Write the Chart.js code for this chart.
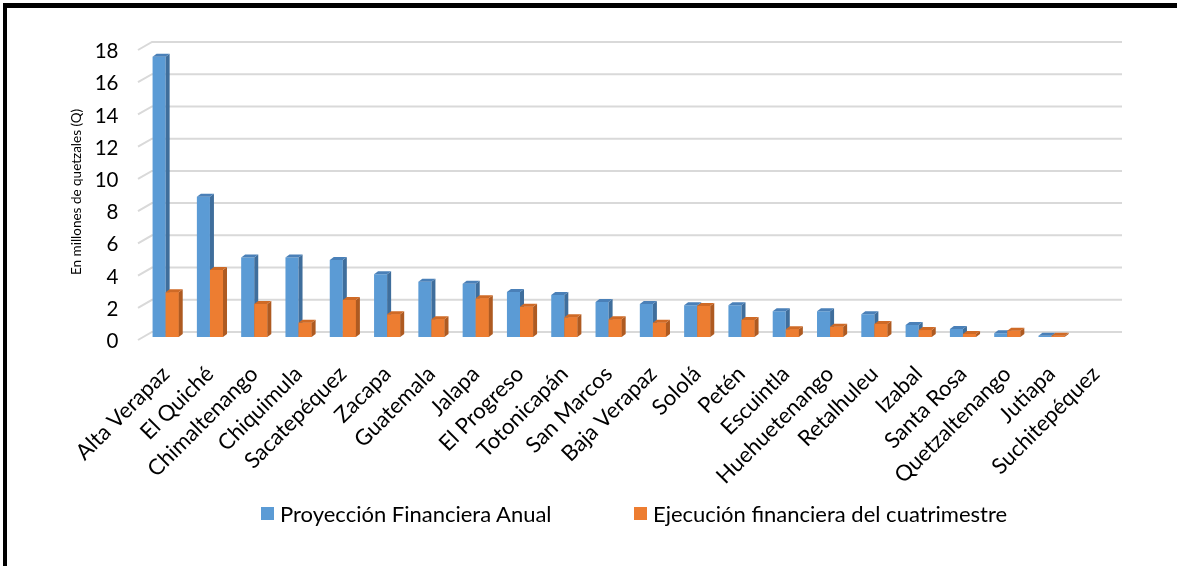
<!DOCTYPE html>
<html>
<head>
<meta charset="utf-8">
<script src="https://cdn.jsdelivr.net/npm/chart.js@4.4.1/dist/chart.umd.min.js"></script>
<style>
  html, body { margin: 0; padding: 0; background: #fff; }
  #wrap { position: relative; width: 1177px; height: 566px; overflow: hidden; }
  #myChart { position: absolute; left: 0; top: 0; }
  .frame-top { position: absolute; left: 3px; top: 3px; width: 1174px; height: 5px; background: #000; }
  .frame-left { position: absolute; left: 3px; top: 3px; width: 4px; height: 563px; background: #000; }
  .legend-item { position: absolute; top: 499px; height: 28px; display: flex; align-items: center;
    font-family: Lato, sans-serif; font-size: 22px; color: #000; white-space: nowrap; }
  .legend-box { width: 13px; height: 13px; margin-right: 6px; }
</style>
</head>
<body>
<div id="wrap">
  <canvas id="myChart" width="1177" height="566"></canvas>
  <div class="frame-top"></div>
  <div class="frame-left"></div>
  <div id="legend"></div>
</div>
<script>
// departamentos, ordered as in the chart
const departamentos = ['Alta Verapaz', 'El Quiché', 'Chimaltenango', 'Chiquimula', 'Sacatepéquez', 'Zacapa',
  'Guatemala', 'Jalapa', 'El Progreso', 'Totonicapán', 'San Marcos', 'Baja Verapaz', 'Sololá', 'Petén',
  'Escuintla', 'Huehuetenango', 'Retalhuleu', 'Izabal', 'Santa Rosa', 'Quetzaltenango', 'Jutiapa', 'Suchitepéquez'];

// millones de quetzales
const proyeccionAnual = [17.4, 8.7, 4.93, 4.93, 4.78, 3.9, 3.43, 3.3, 2.8, 2.6, 2.17, 2.05, 1.97, 1.97,
  1.6, 1.6, 1.41, 0.75, 0.5, 0.23, 0.08, 0];
const ejecucionCuatrimestre = [2.78, 4.16, 2.05, 0.89, 2.3, 1.41, 1.1, 2.4, 1.88, 1.22, 1.1, 0.89, 1.93, 1.06,
  0.48, 0.64, 0.81, 0.43, 0.19, 0.39, 0.08, 0];

const yTicks = [0, 2, 4, 6, 8, 10, 12, 14, 16, 18];

const seriesNames = ['Proyección Financiera Anual', 'Ejecución financiera del cuatrimestre'];
const colFront = ['#5B9BD5', '#ED7D31'];
const colSide = ['#3F6E9C', '#AE5A21'];
const colTop = ['#4A80B8', '#CF6A26'];

// back wall gridlines (excel 3d look)
const backWall = {
  id: 'backWall',
  beforeDatasetsDraw(chart) {
    const { ctx, chartArea, scales: { y } } = chart;
    ctx.save();
    ctx.strokeStyle = '#D9D9D9';
    ctx.lineWidth = 2;
    yTicks.forEach(v => {
      const py = y.getPixelForValue(v);
      ctx.beginPath();
      ctx.moveTo(chartArea.left - 5.5, py + 3);
      ctx.lineTo(chartArea.left + 8.5, py - 5);
      ctx.lineTo(chartArea.right + 4, py - 5);
      ctx.stroke();
    });
    ctx.restore();
  }
};

function drawFaces(ctx, bar, i) {
  const { x, y, base, width } = bar.getProps(['x', 'y', 'base', 'width'], true);
  if (base - y < 0.5) return;
  const dx = 4, dy = 3;
  const L = x - width / 2, R = x + width / 2;
  ctx.fillStyle = colSide[i];
  ctx.beginPath();
  ctx.moveTo(R, y); ctx.lineTo(R + dx, y - dy); ctx.lineTo(R + dx, base - dy); ctx.lineTo(R, base);
  ctx.closePath(); ctx.fill();
  ctx.fillStyle = colTop[i];
  ctx.beginPath();
  ctx.moveTo(L, y); ctx.lineTo(L + dx, y - dy); ctx.lineTo(R + dx, y - dy); ctx.lineTo(R, y);
  ctx.closePath(); ctx.fill();
}

const bars3d = {
  id: 'bars3d',
  afterDatasetsDraw(chart) {
    const ctx = chart.ctx;
    ctx.save();
    chart.getDatasetMeta(0).data.forEach(b => drawFaces(ctx, b, 0));
    // orange sits in front of the blue side face
    chart.getDatasetMeta(1).data.forEach(b => {
      const { x, y, base, width } = b.getProps(['x', 'y', 'base', 'width'], true);
      ctx.fillStyle = colFront[1];
      ctx.fillRect(x - width / 2, y, width, base - y);
      drawFaces(ctx, b, 1);
    });
    ctx.restore();
  }
};

const ctx = document.getElementById('myChart').getContext('2d');
const myChart = new Chart(ctx, {
  type: 'bar',
  data: {
    labels: departamentos,
    datasets: [
      { label: seriesNames[0], data: proyeccionAnual, backgroundColor: colFront[0], borderWidth: 0 },
      { label: seriesNames[1], data: ejecucionCuatrimestre, backgroundColor: colFront[1], borderWidth: 0 }
    ]
  },
  options: {
    responsive: false,
    animation: false,
    categoryPercentage: 0.59,
    barPercentage: 1.0,
    layout: { padding: { top: 47, right: 59, bottom: 0, left: 0 } },
    plugins: {
      legend: { display: false },
      tooltip: { enabled: false }
    },
    scales: {
      x: {
        grid: { display: false, drawTicks: false },
        border: { display: false },
        ticks: {
          autoSkip: false, maxRotation: 45, minRotation: 45, padding: 24,
          color: '#000', font: { family: 'Lato', size: 22 }
        },
        afterFit(scale) { scale.height = 229; }
      },
      y: {
        min: 0, max: 18,
        afterBuildTicks(scale) { scale.ticks = yTicks.map(v => ({ value: v })); },
        grid: { display: false, drawTicks: false },
        border: { display: false },
        ticks: { padding: 25, labelOffset: 4.5, color: '#000', font: { family: 'Lato', size: 20.5 } },
        title: {
          display: true, text: 'En millones de quetzales (Q)', color: '#000',
          font: { family: 'Lato', size: 13.5 }, padding: { top: 69, bottom: 0 }
        },
        afterFit(scale) { scale.width = 143.5; }
      }
    }
  },
  plugins: [backWall, bars3d]
});

// legend as html text
const legendLeft = [261, 634];
const legendEl = document.getElementById('legend');
seriesNames.forEach((name, i) => {
  const item = document.createElement('div');
  item.className = 'legend-item';
  item.style.left = legendLeft[i] + 'px';
  item.innerHTML = '<div class="legend-box" style="background:' + colFront[i] + '"></div><span>' + name + '</span>';
  legendEl.appendChild(item);
});
</script>
</body>
</html>
